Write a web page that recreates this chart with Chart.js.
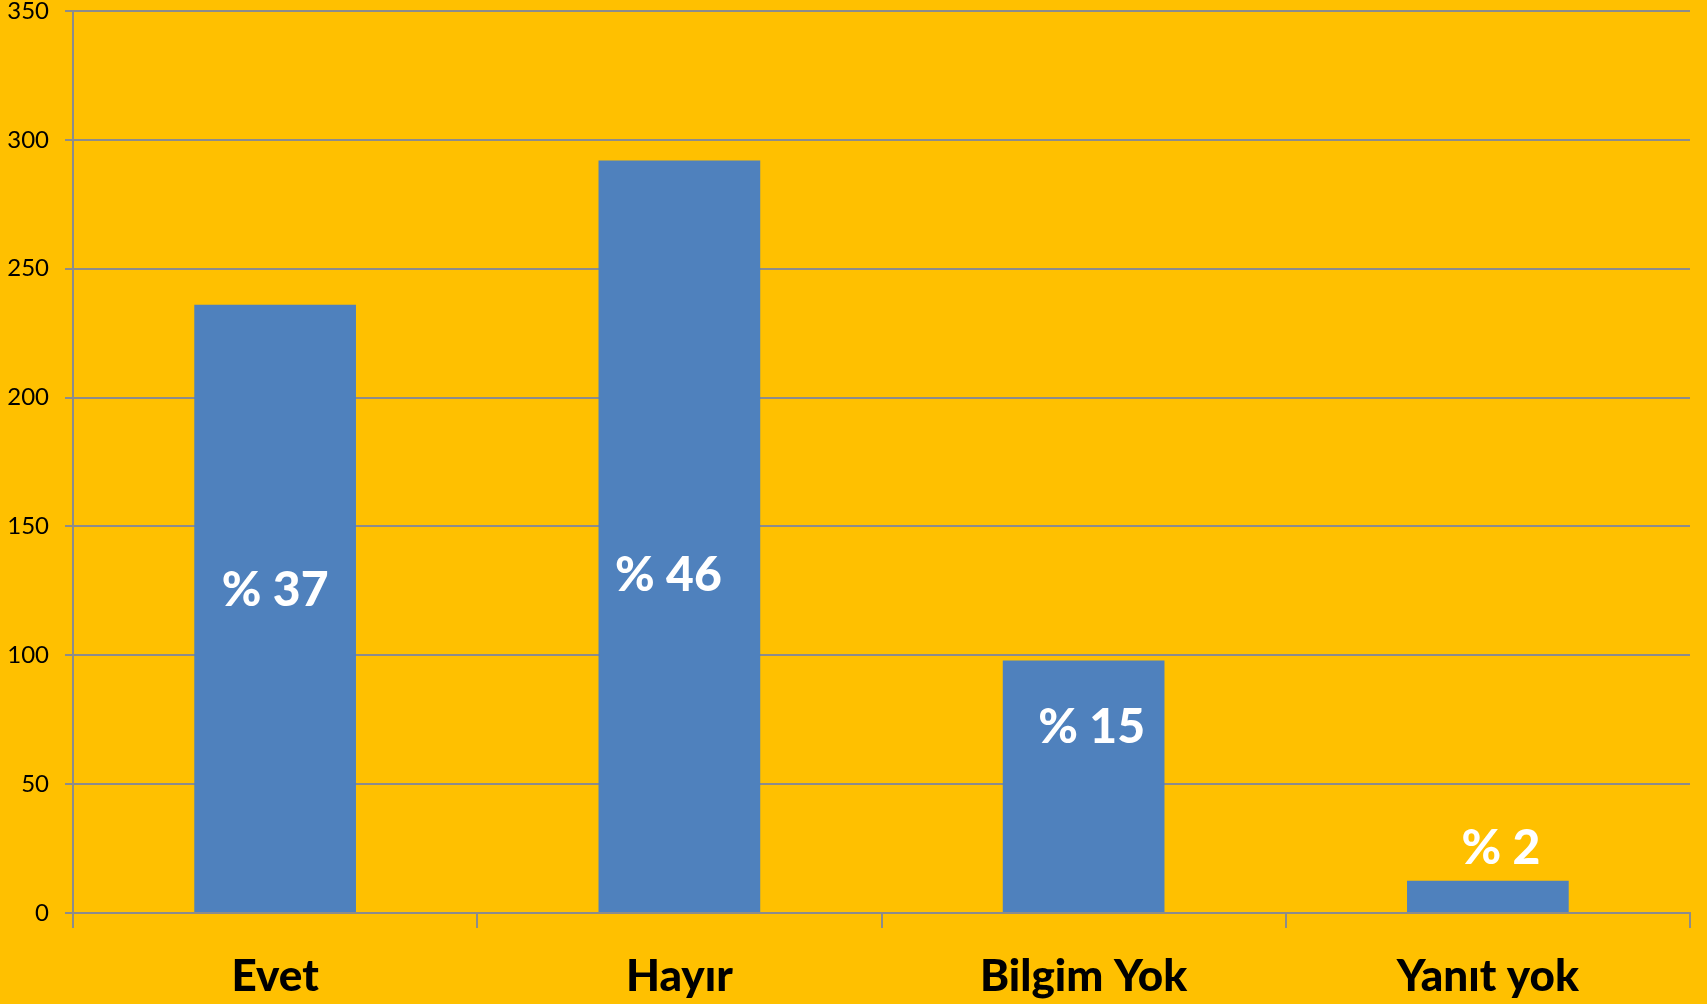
<!DOCTYPE html>
<html>
<head>
<meta charset="utf-8">
<script src="https://cdn.jsdelivr.net/npm/chart.js@4.4.0/dist/chart.umd.min.js"></script>
<style>
  html, body { margin: 0; padding: 0; background: #FFC000; }
  #wrap { width: 1707px; height: 1004px; position: relative; }
</style>
</head>
<body>
<div id="wrap"><canvas id="bar-chart"></canvas></div>
<script>
// Survey answers
var categories = ["Evet", "Hayır", "Bilgim Yok", "Yanıt yok"];
var counts = [236, 292, 98, 12.5];
var percentLabels = ["% 37", "% 46", "% 15", "% 2"];
// where each percent label sits (value units on the y scale) and a small x nudge
var labelAt = [125, 131, 72, 25];
var labelNudge = [0, -11, 8, 13];

var gridGray = "#8C8C8C";

// draws the white percent labels on the bars
var percentPlugin = {
    id: "percentLabels",
    afterDatasetsDraw: function(chart) {
        var ctx = chart.ctx;
        var meta = chart.getDatasetMeta(0);
        var yScale = chart.scales.y;
        ctx.save();
        ctx.fillStyle = "#FFFFFF";
        ctx.font = "900 48px Lato, 'Open Sans', sans-serif";
        ctx.textAlign = "center";
        ctx.textBaseline = "middle";
        meta.data.forEach(function(bar, i) {
            ctx.fillText(percentLabels[i], bar.x + labelNudge[i], yScale.getPixelForValue(labelAt[i]));
        });
        ctx.restore();
    }
};

var ctx = document.getElementById("bar-chart");

var chartData = {
    labels: categories,
    datasets: [{
        data: counts,
        backgroundColor: "#4F81BD",
        borderWidth: 0,
        barPercentage: 0.4,
        categoryPercentage: 1.0
    }]
};

var chartOptions = {
    responsive: true,
    maintainAspectRatio: false,
    animation: false,
    layout: { padding: { top: 0, right: 17, left: 0, bottom: 0 } },
    plugins: {
        legend: { display: false },
        tooltip: { enabled: false }
    },
    scales: {
        x: {
            grid: {
                offset: true,
                drawOnChartArea: false,
                color: gridGray,
                lineWidth: 2,
                tickLength: 15
            },
            border: { color: gridGray, width: 2 },
            ticks: {
                color: "#000000",
                padding: 22,
                font: { family: "Lato, 'Open Sans', sans-serif", size: 44, weight: "900" }
            },
            afterFit: function(scale) { scale.height = 91; }
        },
        y: {
            min: 0,
            max: 350,
            ticks: {
                stepSize: 50,
                color: "#000000",
                padding: 16,
                font: { family: "Lato, 'Open Sans', sans-serif", size: 24 }
            },
            grid: {
                color: gridGray,
                lineWidth: 2,
                tickLength: 8
            },
            border: { color: gridGray, width: 2 },
            afterFit: function(scale) {
                scale.width = 73;
                scale.paddingTop = 11;
                scale.paddingBottom = 0;
            }
        }
    }
};

var barChart = new Chart(ctx, {
    type: "bar",
    data: chartData,
    options: chartOptions,
    plugins: [percentPlugin]
});
</script>
</body>
</html>
